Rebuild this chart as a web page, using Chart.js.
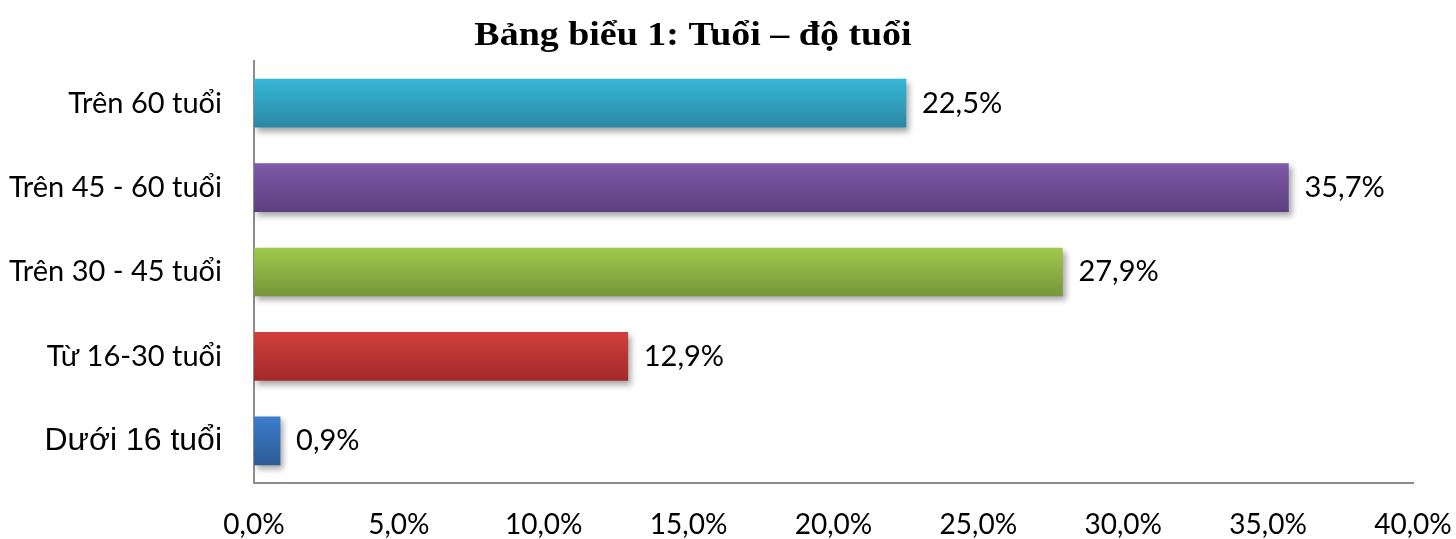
<!DOCTYPE html>
<html>
<head>
<meta charset="utf-8">
<script src="https://cdn.jsdelivr.net/npm/chart.js@4"></script>
<style>
    body { margin: 0; background: #fff; }
</style>
</head>
<body>
<canvas id="age-bar-chart" width="1456" height="539"></canvas>
<script>
const title = 'Bảng biểu 1: Tuổi – độ tuổi'
const categories = ['Trên 60 tuổi', 'Trên 45 - 60 tuổi', 'Trên 30 - 45 tuổi', 'Từ 16-30 tuổi', 'Dưới 16 tuổi']
const values = [22.5, 35.7, 27.9, 12.9, 0.9]
const barColors = [
    ['#38b6d9', '#2a88a3'],
    ['#7d5aa9', '#5d3f7e'],
    ['#a0c84b', '#76963a'],
    ['#d23e3b', '#a02a29'],
    ['#3c7dcb', '#2d5b95']
]

const labelFont = "'Lato', 'Liberation Sans', sans-serif"
const formatPercent = v => `${v.toFixed(1).replace('.', ',')}%`

const barShadow = {
    id: 'barShadow',
    beforeDatasetDraw: chart => {
        const ctx = chart.ctx
        ctx.save()
        ctx.shadowColor = 'rgba(0, 0, 0, 0.35)'
        ctx.shadowBlur = 6
        ctx.shadowOffsetX = 3
        ctx.shadowOffsetY = 4
    },
    afterDatasetDraw: chart => chart.ctx.restore()
}

const valueLabels = {
    id: 'valueLabels',
    afterDatasetsDraw: chart => {
        const ctx = chart.ctx
        ctx.save()
        ctx.fillStyle = '#000'
        ctx.font = `29px ${labelFont}`
        ctx.textAlign = 'left'
        ctx.textBaseline = 'middle'
        chart.getDatasetMeta(0).data.forEach((bar, i) => {
            ctx.fillText(formatPercent(values[i]), bar.x + 16, bar.y)
        })
        ctx.restore()
    }
}

// the title in the picture is drawn wider than a plain serif bold, so stretch it a bit
const chartTitle = {
    id: 'chartTitle',
    afterDraw: chart => {
        const ctx = chart.ctx
        ctx.save()
        ctx.fillStyle = '#000'
        ctx.font = "bold 33px 'Liberation Serif', 'Times New Roman', serif"
        ctx.textAlign = 'center'
        ctx.textBaseline = 'alphabetic'
        ctx.translate(693, 45)
        ctx.scale(1.15, 1)
        ctx.fillText(title, 0, 0)
        ctx.restore()
    }
}

const getBarGradient = context => {
    const chart = context.chart
    const colors = barColors[context.dataIndex]
    const yScale = chart.scales.y
    const center = yScale ? yScale.getPixelForValue(context.dataIndex) : NaN
    if (!isFinite(center)) {
        return colors[0]
    }
    const gradient = chart.ctx.createLinearGradient(0, center - 24, 0, center + 24)
    gradient.addColorStop(0, colors[0])
    gradient.addColorStop(1, colors[1])
    return gradient
}

new Chart(document.querySelector('#age-bar-chart'), {
    type: 'bar',
    data: {
        labels: categories,
        datasets: [{
            data: values,
            backgroundColor: getBarGradient,
            borderWidth: 0,
            barThickness: 48
        }]
    },
    options: {
        indexAxis: 'y',
        responsive: false,
        animation: false,
        layout: {
            padding: { top: 61, right: 43, bottom: 0, left: 0 }
        },
        plugins: {
            legend: { display: false },
            title: { display: false },
            tooltip: { enabled: false }
        },
        scales: {
            x: {
                min: 0,
                max: 40,
                ticks: {
                    stepSize: 5,
                    color: '#000',
                    padding: 25,
                    maxRotation: 0,
                    font: { family: labelFont, size: 28 },
                    callback: v => formatPercent(v)
                },
                grid: { display: false, drawTicks: false },
                border: { display: true, color: '#8c8c8c', width: 2 },
                afterFit: scale => {
                    scale.height = 56
                    scale.paddingLeft = 0
                    scale.paddingRight = 0
                }
            },
            y: {
                ticks: {
                    color: '#000',
                    padding: 32,
                    font: ctx => ctx.index === 4
                        ? { family: "'Liberation Sans', Arial, sans-serif", size: 32 }
                        : { family: labelFont, size: 29 }
                },
                grid: { display: false, drawTicks: false },
                border: { display: true, color: '#8c8c8c', width: 2 },
                afterFit: scale => { scale.width = 254 }
            }
        }
    },
    plugins: [barShadow, valueLabels, chartTitle]
})
</script>
</body>
</html>
